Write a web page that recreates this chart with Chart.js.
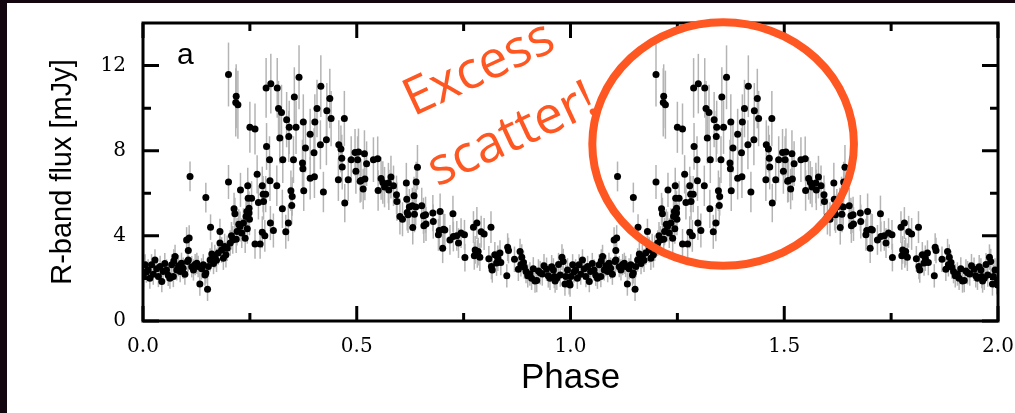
<!DOCTYPE html>
<html>
<head>
<meta charset="utf-8">
<script src="https://cdn.jsdelivr.net/npm/chart.js@4.4.1/dist/chart.umd.min.js"></script>
<style>
  html, body { margin: 0; padding: 0; background: #fff; }
  #wrap { position: relative; width: 1015px; height: 413px; overflow: hidden; }
  #lightCurve { position: absolute; left: 0; top: 0; }
  .edge { position: absolute; left: 0; top: 0; background: #14060f; }
</style>
</head>
<body>
<div id="wrap">
  <canvas id="lightCurve" width="1015" height="413"></canvas>
  <div class="edge" style="width:7px;height:413px"></div>
  <div class="edge" style="width:1015px;height:3px"></div>
</div>
<script>
// one cycle of the folded light curve; it is plotted again at phase + 1
const phase = [
  0.001, 0.005, 0.008, 0.012, 0.016, 0.020, 0.024, 0.028, 0.032, 0.036,
  0.040, 0.044, 0.047, 0.051, 0.055, 0.059, 0.063, 0.067, 0.071, 0.072,
  0.075, 0.079, 0.083, 0.087, 0.090, 0.094, 0.098, 0.102, 0.104, 0.106,
  0.106, 0.108, 0.110, 0.114, 0.118, 0.122, 0.126, 0.129, 0.133, 0.137,
  0.141, 0.145, 0.147, 0.147, 0.151, 0.153, 0.157, 0.158, 0.161, 0.165,
  0.168, 0.172, 0.176, 0.180, 0.180, 0.184, 0.188, 0.191, 0.194, 0.197,
  0.200, 0.200, 0.204, 0.207, 0.210, 0.213, 0.215, 0.217, 0.218, 0.218,
  0.220, 0.222, 0.224, 0.227, 0.228, 0.231, 0.235, 0.239, 0.241, 0.243,
  0.244, 0.245, 0.246, 0.248, 0.248, 0.249, 0.250, 0.254, 0.262, 0.262,
  0.267, 0.270, 0.274, 0.279, 0.279, 0.281, 0.282, 0.285, 0.287, 0.288,
  0.289, 0.296, 0.297, 0.298, 0.299, 0.305, 0.313, 0.314, 0.317, 0.320,
  0.324, 0.326, 0.327, 0.334, 0.336, 0.340, 0.341, 0.342, 0.346, 0.348,
  0.349, 0.352, 0.354, 0.358, 0.365, 0.373, 0.374, 0.375, 0.376, 0.380,
  0.391, 0.391, 0.400, 0.401, 0.402, 0.407, 0.415, 0.416, 0.422, 0.429,
  0.430, 0.437, 0.440, 0.457, 0.458, 0.463, 0.465, 0.466, 0.471, 0.472,
  0.480, 0.487, 0.496, 0.498, 0.502, 0.504, 0.508, 0.510, 0.515, 0.518,
  0.519, 0.523, 0.539, 0.549, 0.550, 0.557, 0.561, 0.565, 0.574, 0.575,
  0.580, 0.586, 0.593, 0.594, 0.601, 0.607, 0.616, 0.617, 0.618, 0.620,
  0.623, 0.630, 0.631, 0.634, 0.635, 0.638, 0.639, 0.642, 0.652, 0.656,
  0.657, 0.661, 0.662, 0.678, 0.679, 0.691, 0.693, 0.695, 0.701, 0.703,
  0.706, 0.718, 0.725, 0.726, 0.734, 0.738, 0.744, 0.752, 0.753, 0.773,
  0.775, 0.777, 0.781, 0.782, 0.784, 0.788, 0.791, 0.798, 0.809, 0.814,
  0.815, 0.817, 0.823, 0.827, 0.830, 0.835, 0.837, 0.851, 0.853, 0.855,
  0.869, 0.878, 0.882, 0.884, 0.886, 0.890, 0.892, 0.896, 0.900, 0.905,
  0.909, 0.913, 0.917, 0.921, 0.925, 0.929, 0.934, 0.938, 0.944, 0.948,
  0.952, 0.956, 0.960, 0.962, 0.964, 0.968, 0.972, 0.976, 0.980, 0.983,
  0.987, 0.989, 0.993, 0.997, 0.999
];
const flux = [
  2.09, 2.64, 2.30, 2.40, 2.01, 2.64, 2.20, 2.87, 2.45, 2.09,
  2.56, 1.85, 2.32, 2.70, 2.40, 2.15, 2.01, 2.64, 2.09, 2.82,
  3.03, 2.40, 2.60, 2.32, 2.71, 2.48, 2.20, 3.81, 2.79, 2.87,
  3.31, 3.90, 6.79, 2.55, 2.40, 2.65, 2.71, 2.56, 1.74, 2.45,
  2.64, 2.16, 2.26, 5.80, 1.49, 2.56, 2.87, 4.41, 3.15, 2.70,
  3.03, 2.85, 3.19, 3.66, 4.20, 3.34, 2.95, 3.50, 3.11, 3.42,
  11.58, 6.53, 3.66, 4.00, 3.81, 5.27, 5.04, 10.27, 3.84, 10.56,
  4.20, 10.16, 4.55, 4.44, 6.16, 4.13, 4.60, 3.89, 4.91, 5.14,
  4.33, 6.35, 5.77, 5.30, 5.07, 4.78, 9.10, 5.77, 9.02, 3.62,
  6.89, 5.57, 3.62, 6.35, 4.17, 5.96, 5.61, 4.00, 5.96, 10.95,
  8.20, 7.58, 6.59, 4.60, 11.15, 4.25, 6.35, 10.95, 9.98, 8.60,
  9.80, 5.27, 7.58, 4.19, 9.46, 4.60, 8.67, 9.10, 6.12, 5.43,
  5.85, 7.58, 10.52, 9.10, 11.45, 7.42, 7.15, 9.35, 6.12, 8.13,
  8.77, 6.71, 7.91, 6.78, 9.35, 9.98, 8.28, 11.03, 6.06, 8.52,
  9.88, 10.45, 9.51, 6.64, 8.28, 8.08, 7.65, 7.23, 9.51, 5.54,
  6.64, 7.58, 7.92, 7.03, 7.58, 7.94, 6.56, 6.60, 6.20, 7.86,
  6.67, 7.39, 7.58, 7.62, 6.13, 6.70, 6.51, 6.29, 6.48, 6.16,
  6.76, 6.35, 5.93, 5.61, 4.91, 4.78, 6.48, 5.72, 5.10, 4.99,
  5.35, 5.41, 4.39, 5.88, 5.02, 5.35, 6.53, 7.22, 5.41, 4.94,
  4.47, 4.99, 4.56, 5.07, 4.67, 4.05, 4.25, 5.14, 3.42, 4.31,
  4.28, 3.81, 5.04, 3.97, 4.00, 3.66, 4.13, 4.05, 2.98, 4.41,
  3.06, 3.34, 4.60, 3.15, 3.26, 3.00, 4.19, 4.09, 2.92, 4.41,
  2.56, 2.40, 3.11, 2.72, 2.95, 3.19, 2.75, 2.12, 3.47, 3.31,
  2.90, 2.43, 3.26, 2.64, 3.00, 2.75, 2.53, 2.32, 2.12, 2.21,
  2.01, 2.45, 1.88, 1.90, 2.35, 2.27, 2.21, 2.60, 2.43, 2.12,
  2.01, 2.55, 2.40, 2.09, 1.88, 2.01, 2.65, 2.16, 3.00, 2.79,
  1.74, 2.09, 2.40, 1.80, 1.69
];
const fluxErr = [
  0.5, 0.5, 0.5, 0.5, 0.5, 0.5, 0.5, 0.5, 0.5, 0.5,
  0.5, 0.5, 0.5, 0.5, 0.5, 0.5, 0.5, 0.5, 0.5, 0.55,
  0.55, 0.5, 0.5, 0.5, 0.5, 0.5, 0.5, 0.6, 0.55, 0.55,
  0.55, 0.6, 0.7, 0.5, 0.5, 0.5, 0.5, 0.5, 0.55, 0.5,
  0.5, 0.5, 0.5, 0.7, 0.55, 0.5, 0.55, 0.6, 0.55, 0.5,
  0.55, 0.55, 0.55, 0.6, 0.6, 0.6, 0.55, 0.6, 0.6, 0.6,
  1.5, 0.8, 0.6, 0.65, 0.65, 0.75, 0.75, 1.6, 0.65, 1.5,
  0.65, 1.6, 0.7, 0.7, 0.8, 0.7, 0.7, 0.7, 0.75, 0.75,
  0.7, 0.85, 0.8, 0.8, 0.8, 0.75, 1.2, 0.8, 1.2, 0.7,
  0.9, 0.8, 0.7, 0.9, 0.75, 0.85, 0.85, 0.75, 0.85, 1.4,
  1.1, 1.1, 0.95, 0.8, 1.4, 0.8, 0.95, 1.4, 1.3, 1.2,
  1.3, 0.9, 1.1, 0.8, 1.3, 0.85, 1.2, 1.25, 0.95, 0.9,
  0.9, 1.1, 1.4, 1.25, 1.5, 1.1, 1.05, 1.3, 0.95, 1.15,
  1.2, 1.0, 1.15, 1.0, 1.3, 1.35, 1.15, 1.45, 0.95, 1.2,
  1.3, 1.4, 1.3, 1.0, 1.15, 1.1, 1.1, 1.05, 1.3, 0.9,
  1.0, 1.1, 1.1, 1.05, 1.1, 1.1, 1.0, 1.0, 0.95, 1.1,
  1.0, 1.05, 1.05, 1.05, 0.95, 1.0, 1.0, 0.95, 0.95, 0.95,
  1.0, 0.95, 0.9, 0.9, 0.85, 0.8, 0.95, 0.9, 0.85, 0.85,
  0.85, 0.85, 0.8, 0.9, 0.85, 0.85, 0.95, 1.05, 0.85, 0.85,
  0.8, 0.85, 0.8, 0.85, 0.8, 0.75, 0.75, 0.85, 0.7, 0.75,
  0.75, 0.7, 0.85, 0.7, 0.7, 0.7, 0.7, 0.7, 0.65, 0.75,
  0.65, 0.65, 0.75, 0.65, 0.65, 0.65, 0.75, 0.75, 0.6, 0.75,
  0.6, 0.6, 0.6, 0.6, 0.6, 0.6, 0.6, 0.55, 0.65, 0.6,
  0.6, 0.55, 0.6, 0.55, 0.6, 0.55, 0.55, 0.55, 0.55, 0.55,
  0.55, 0.55, 0.55, 0.55, 0.55, 0.55, 0.55, 0.55, 0.55, 0.55,
  0.55, 0.55, 0.55, 0.55, 0.55, 0.55, 0.55, 0.55, 0.6, 0.6,
  0.55, 0.55, 0.55, 0.55, 0.55
];
const cycles = [0, 1];
const xMajor = [0, 0.5, 1.0, 1.5, 2.0];
const xMinor = [0.25, 0.75, 1.25, 1.75];
const yMajor = [0, 4, 8, 12];
const yMinor = [2, 6, 10];

const ORANGE = '#ff5722';

const points = [];
cycles.forEach(c => {
  phase.forEach((p, i) => {
    points.push({ x: p + c, y: flux[i], err: fluxErr[i] });
  });
});

// grey vertical error bars behind the dots
const errorBars = {
  id: 'errorBars',
  beforeDatasetsDraw(chart) {
    const { ctx, chartArea, scales: { x, y } } = chart;
    ctx.save();
    ctx.beginPath();
    ctx.rect(chartArea.left, chartArea.top, chartArea.width, chartArea.height);
    ctx.clip();
    ctx.strokeStyle = '#b4b4b4';
    ctx.lineWidth = 1.5;
    chart.data.datasets[0].data.forEach(p => {
      const px = x.getPixelForValue(p.x);
      ctx.beginPath();
      ctx.moveTo(px, y.getPixelForValue(p.y - p.err));
      ctx.lineTo(px, y.getPixelForValue(p.y + p.err));
      ctx.stroke();
    });
    ctx.restore();
  }
};

// boxed frame with inward ticks on all four sides, plus panel letter
const frame = {
  id: 'frame',
  afterDatasetsDraw(chart) {
    const { ctx, chartArea: a, scales: { x, y } } = chart;
    ctx.save();
    ctx.strokeStyle = '#000';
    ctx.lineWidth = 3;
    ctx.strokeRect(a.left, a.top, a.width, a.height);
    const xt = (v, len) => {
      const px = x.getPixelForValue(v);
      ctx.beginPath();
      ctx.moveTo(px, a.bottom); ctx.lineTo(px, a.bottom - len);
      ctx.moveTo(px, a.top); ctx.lineTo(px, a.top + len);
      ctx.stroke();
    };
    const yt = (v, len) => {
      const py = y.getPixelForValue(v);
      ctx.beginPath();
      ctx.moveTo(a.left, py); ctx.lineTo(a.left + len, py);
      ctx.moveTo(a.right, py); ctx.lineTo(a.right - len, py);
      ctx.stroke();
    };
    xMajor.forEach(v => xt(v, 15));
    xMinor.forEach(v => xt(v, 8));
    yMajor.forEach(v => yt(v, 16));
    yMinor.forEach(v => yt(v, 8));
    ctx.fillStyle = '#000';
    ctx.font = '30px "Liberation Sans"';
    ctx.textBaseline = 'alphabetic';
    ctx.fillText('a', a.left + 34, a.top + 41);
    ctx.restore();
  }
};

// hand-drawn highlight: ellipse round the second hump and the note
const excessNote = {
  id: 'excessNote',
  afterDraw(chart) {
    const { ctx, scales: { x, y } } = chart;
    const cx = x.getPixelForValue(1.357), cy = y.getPixelForValue(8.31);
    const rx = x.getPixelForValue(1.357 + 0.306) - cx;
    const ry = cy - y.getPixelForValue(8.31 + 5.72);
    ctx.save();
    ctx.strokeStyle = ORANGE;
    ctx.lineWidth = 8;
    ctx.beginPath();
    ctx.ellipse(cx, cy, rx, ry, 0, 0, Math.PI * 2);
    ctx.stroke();
    ctx.fillStyle = ORANGE;
    ctx.font = '52px "Open Sans"';
    ctx.textBaseline = 'alphabetic';
    ctx.translate(x.getPixelForValue(0.632), y.getPixelForValue(9.6));
    ctx.rotate(-25 * Math.PI / 180);
    ctx.fillText('Excess', 0, 0);
    ctx.fillText('scatter!', -8, 74);
    ctx.restore();
  }
};

new Chart(document.getElementById('lightCurve'), {
  type: 'scatter',
  data: {
    datasets: [{
      data: points,
      pointRadius: 3.5,
      pointHoverRadius: 3.5,
      pointBorderWidth: 0,
      pointBackgroundColor: '#000',
      clip: 0
    }]
  },
  options: {
    responsive: false,
    animation: false,
    events: [],
    layout: { padding: { left: 0, right: 17, top: 23, bottom: 0 } },
    plugins: { legend: { display: false }, tooltip: { enabled: false } },
    scales: {
      x: {
        type: 'linear',
        min: 0,
        max: 2,
        afterFit: s => {
          s.height = 92;
          s.paddingLeft = 0; s.paddingRight = 0;
        },
        grid: { display: false, drawTicks: false },
        border: { display: false },
        ticks: {
          stepSize: 0.5,
          autoSkip: false,
          maxRotation: 0,
          padding: 14,
          color: '#000',
          font: { family: 'DejaVu Serif', size: 20 },
          callback: v => Number(v).toFixed(1)
        },
        title: {
          display: true,
          text: 'Phase',
          color: '#000',
          font: { family: 'Liberation Sans', size: 35 },
          padding: { top: 0, bottom: 14 }
        }
      },
      y: {
        min: 0,
        max: 14,
        afterFit: s => {
          s.width = 143;
          s.paddingTop = 0; s.paddingBottom = 0;
        },
        afterBuildTicks: s => { s.ticks = s.ticks.filter(t => yMajor.includes(t.value)); },
        grid: { display: false, drawTicks: false },
        border: { display: false },
        ticks: {
          stepSize: 4,
          padding: 17,
          color: '#000',
          font: { family: 'DejaVu Serif', size: 20 }
        },
        title: {
          display: true,
          text: 'R-band flux [mJy]',
          color: '#000',
          font: { family: 'Liberation Sans', size: 29 },
          padding: { top: 46, bottom: 0 }
        }
      }
    }
  },
  plugins: [errorBars, frame, excessNote]
});
</script>
</body>
</html>
